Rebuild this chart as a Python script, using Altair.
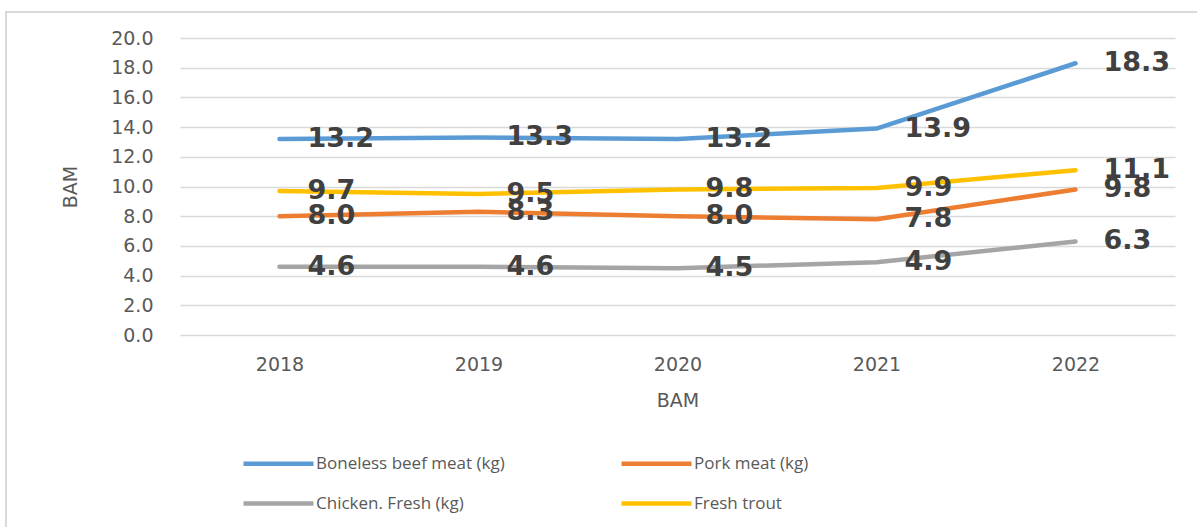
import altair as alt
import pandas as pd

years = ["2018", "2019", "2020", "2021", "2022"]
series_names = ["Boneless beef meat (kg)", "Pork meat (kg)", "Chicken. Fresh (kg)", "Fresh trout"]
beef = [13.2, 13.3, 13.2, 13.9, 18.3]
pork = [8.0, 8.3, 8.0, 7.8, 9.8]
chicken = [4.6, 4.6, 4.5, 4.9, 6.3]
trout = [9.7, 9.5, 9.8, 9.9, 11.1]
colors = ["#5B9BD5", "#ED7D31", "#A5A5A5", "#FFC000"]
y_ticks = [0, 2, 4, 6, 8, 10, 12, 14, 16, 18, 20]

rows = []
for name, vals in zip(series_names, [beef, pork, chicken, trout]):
    for y, v in zip(years, vals):
        rows.append({"year": y, "value": v, "series": name})
df = pd.DataFrame(rows)

W, H = 995, 297

x_axis = alt.Axis(title="BAM", labelAngle=0, ticks=False, domain=False,
                  labelFont="DejaVu Sans", labelFontSize=19, labelColor="#595959",
                  labelPadding=20, titleFont="DejaVu Sans", titleFontSize=19,
                  titleFontWeight="normal", titleColor="#595959",
                  titleY=65, titleBaseline="middle", grid=False)
y_axis = alt.Axis(title="BAM", values=y_ticks, format=".1f", ticks=False, domain=False,
                  labelOverlap=False, labelFont="DejaVu Sans", labelFontSize=19,
                  labelColor="#595959", labelPadding=27, gridColor="#D9D9D9", gridWidth=1.5,
                  titleFont="DejaVu Sans", titleFontSize=19, titleFontWeight="normal",
                  titleColor="#595959", titleAngle=-90, titleX=-110, titleY=148.5,
                  titleAlign="center", titleBaseline="middle")

def x_enc():
    return alt.X("year:O", sort=years, axis=x_axis)

def y_enc():
    return alt.Y("value:Q", scale=alt.Scale(domain=[0, 20], nice=False), axis=y_axis)

color_enc = alt.Color("series:N", sort=series_names,
                      scale=alt.Scale(domain=series_names, range=colors),
                      legend=alt.Legend(title=None, orient="none", legendX=89, legendY=416,
                                        direction="horizontal", columns=2,
                                        symbolType="M-5,0H5", symbolSize=196,
                                        symbolStrokeWidth=4.5, symbolFillColor="transparent",
                                        labelOffset=28,
                                        labelFont="Open Sans", labelFontSize=17,
                                        labelColor="#595959", columnPadding=107,
                                        rowPadding=21, labelLimit=400))

border = alt.Chart(pd.DataFrame({"a": [0]})).mark_rect(
    fill=None, stroke="#D9D9D9", strokeWidth=2
).encode(x=alt.value(-174), y=alt.value(-26), x2=alt.value(1197 - 180 + 20), y2=alt.value(527 - 38 + 20))

lines = alt.Chart(df).mark_line(interpolate="linear", strokeWidth=4.5, strokeCap="round",
                                strokeJoin="round").encode(
    x=x_enc(), y=y_enc(), color=color_enc, detail="series:N")

labels = alt.Chart(df).mark_text(align="left", baseline="middle", dx=28, font="DejaVu Sans",
                                 fontWeight="bold", fontSize=27, color="#404040").encode(
    x=x_enc(), y=y_enc(), text=alt.Text("value:Q", format=".1f"))

chart = alt.layer(border, lines, labels).properties(
    width=W, height=H,
    autosize=alt.AutoSizeParams(type="none"),
    padding={"left": 180, "top": 38, "right": 22, "bottom": 192},
).configure_view(stroke=None).configure_scale(pointPadding=0.5)

chart.save("out.html", embed_options={"renderer": "svg", "actions": False})
